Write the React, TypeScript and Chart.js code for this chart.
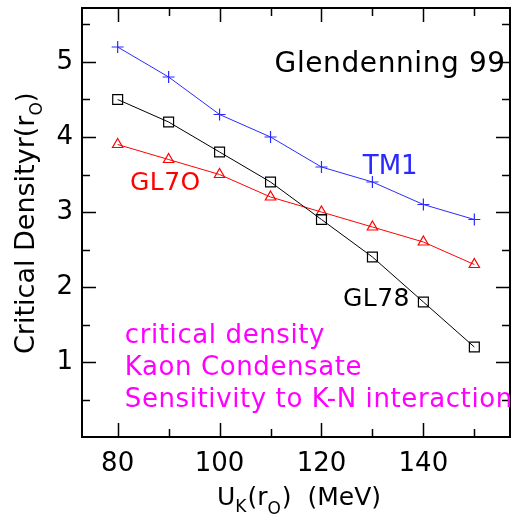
import { useEffect, useRef } from 'react';
import { Chart, registerables } from 'chart.js';

Chart.register(...registerables);

// Kaon potential U_K (MeV)
const uk = [80, 90, 100, 110, 120, 130, 140, 150];
// Critical density for kaon condensation, per parameter set
const tm1 = [5.2, 4.8, 4.3, 4.0, 3.6, 3.4, 3.1, 2.9];
const gl78 = [4.5, 4.2, 3.8, 3.4, 2.9, 2.4, 1.8, 1.2];
const gl70 = [3.9, 3.7, 3.5, 3.2, 3.0, 2.8, 2.6, 2.3];

const xTickValues = [80, 90, 100, 110, 120, 130, 140, 150];
const xTickLabels = [80, 100, 120, 140];
const yTickValues = [0.5, 1, 1.5, 2, 2.5, 3, 3.5, 4, 4.5, 5, 5.5];
const yTickLabels = [1, 2, 3, 4, 5];

const FONT = '"DejaVu Sans", sans-serif';

const frameAndText = {
  id: 'frameAndText',
  afterDraw(chart: any) {
    const { ctx, chartArea: a, scales } = chart;
    const xs = scales.x;
    const ys = scales.y;
    ctx.save();
    ctx.strokeStyle = '#000';
    ctx.lineWidth = 1.5;
    // inward tick marks on all four sides
    for (const v of xTickValues) {
      const px = Math.round(xs.getPixelForValue(v)) + 0.5;
      const len = xTickLabels.includes(v) ? 14 : 8;
      ctx.beginPath();
      ctx.moveTo(px, a.bottom);
      ctx.lineTo(px, a.bottom - len);
      ctx.moveTo(px, a.top);
      ctx.lineTo(px, a.top + len);
      ctx.stroke();
    }
    for (const v of yTickValues) {
      const py = Math.round(ys.getPixelForValue(v)) + 0.5;
      const len = yTickLabels.includes(v) ? 14 : 8;
      ctx.beginPath();
      ctx.moveTo(a.left, py);
      ctx.lineTo(a.left + len, py);
      ctx.moveTo(a.right, py);
      ctx.lineTo(a.right - len, py);
      ctx.stroke();
    }
    // frame
    ctx.lineWidth = 2;
    ctx.strokeRect(a.left, a.top, a.right - a.left, a.bottom - a.top);

    // in-plot labels
    const label = (t: string, x: number, y: number, color: string, size: number, sp = 0) => {
      ctx.fillStyle = color;
      ctx.font = `${size}px ${FONT}`;
      ctx.letterSpacing = `${sp}px`;
      ctx.textAlign = 'left';
      ctx.textBaseline = 'alphabetic';
      ctx.fillText(t, xs.getPixelForValue(x), ys.getPixelForValue(y));
      ctx.letterSpacing = '0px';
    };
    label('Glendenning 99', 110.8, 4.87, '#000', 28, 0.6);
    label('TM1', 128.1, 3.51, '#2a2aff', 26);
    label('GL7O', 82.4, 3.29, '#ff0000', 25, 0.5);
    label('GL78', 124.2, 1.75, '#000', 25, 0.5);
    ctx.save();
    ctx.beginPath();
    ctx.rect(a.left, a.top, a.right - a.left, a.bottom - a.top);
    ctx.clip();
    label('critical density', 81.4, 1.25, '#ff00ff', 26, 0.6);
    label('Kaon Condensate', 81.4, 0.83, '#ff00ff', 26, 0.6);
    label('Sensitivity to K-N interaction', 81.4, 0.4, '#ff00ff', 26, 0.6);
    ctx.restore();

    // x-axis title: U_K(r_O)  (MeV)
    ctx.fillStyle = '#000';
    ctx.textAlign = 'left';
    ctx.textBaseline = 'alphabetic';
    const parts: [string, number, number][] = [
      ['U', 25, 0],
      ['K', 17, 7],
      ['(r', 25, 0],
      ['O', 17, 9],
      [')  (MeV)', 25, 0],
    ];
    let x = 217;
    const base = 505;
    for (const [t, s, dy] of parts) {
      ctx.font = `${s}px ${FONT}`;
      ctx.fillText(t, x, base + dy);
      x += ctx.measureText(t).width + (s < 20 ? 1 : 0);
    }

    // y-axis title, rotated
    ctx.save();
    ctx.translate(34, 354);
    ctx.rotate(-Math.PI / 2);
    const yparts: [string, number, number][] = [
      ['Critical Densityr(r', 27, 0],
      ['O', 17, 8],
      [')', 25, 0],
    ];
    let p = 0;
    for (const [t, s, dy] of yparts) {
      ctx.font = `${s}px ${FONT}`;
      ctx.fillText(t, p, dy);
      p += ctx.measureText(t).width;
    }
    ctx.restore();
    ctx.restore();
  },
};

const fixX = (s: any) => {
  s.height = 83;
  s.paddingLeft = 0;
  s.paddingRight = 0;
};
const fixY = (s: any) => {
  s.width = 82;
  s.paddingTop = 0;
  s.paddingBottom = 0;
};

export default function App() {
  const ref = useRef<HTMLCanvasElement | null>(null);

  useEffect(() => {
    if (!ref.current) return;
    const chart = new Chart(ref.current, {
      type: 'line',
      data: {
        datasets: [
          {
            label: 'TM1',
            data: uk.map((u, i) => ({ x: u, y: tm1[i] })),
            borderColor: '#2a2aff',
            borderWidth: 1,
            pointStyle: 'cross',
            pointRadius: 6,
            pointBorderWidth: 1.2,
            pointBorderColor: '#2a2aff',
            backgroundColor: 'transparent',
          },
          {
            label: 'GL78',
            data: uk.map((u, i) => ({ x: u, y: gl78[i] })),
            borderColor: '#000',
            borderWidth: 1,
            pointStyle: 'rect',
            pointRadius: 7,
            pointBorderWidth: 1.2,
            pointBorderColor: '#000',
            pointBackgroundColor: 'transparent',
            backgroundColor: 'transparent',
          },
          {
            label: 'GL70',
            data: uk.map((u, i) => ({ x: u, y: gl70[i] })),
            borderColor: '#ff0000',
            borderWidth: 1,
            pointStyle: 'triangle',
            pointRadius: 6,
            pointBorderWidth: 1.2,
            pointBorderColor: '#ff0000',
            pointBackgroundColor: 'transparent',
            backgroundColor: 'transparent',
          },
        ],
      },
      options: {
        animation: false,
        responsive: false,
        devicePixelRatio: 1,
        layout: { autoPadding: false, padding: { top: 8, right: 2, left: 0, bottom: 0 } },
        plugins: { legend: { display: false }, tooltip: { enabled: false } },
        elements: { line: { tension: 0 } },
        scales: {
          x: {
            type: 'linear',
            min: 73,
            max: 157,
            grid: { display: false, drawTicks: false },
            border: { display: false },
            afterBuildTicks: (s: any) => {
              s.ticks = xTickValues.map((v) => ({ value: v }));
            },
            afterFit: fixX,
            ticks: {
              autoSkip: false,
              maxRotation: 0,
              padding: 12,
              color: '#000',
              font: { family: FONT, size: 26 },
              callback: (v: any) => (xTickLabels.includes(Number(v)) ? String(v) : ''),
            },
          },
          y: {
            type: 'linear',
            min: 0,
            max: 5.72,
            grid: { display: false, drawTicks: false },
            border: { display: false },
            afterBuildTicks: (s: any) => {
              s.ticks = yTickValues.map((v) => ({ value: v }));
            },
            afterFit: fixY,
            ticks: {
              autoSkip: false,
              padding: 9,
              color: '#000',
              font: { family: FONT, size: 26 },
              callback: (v: any) => (yTickLabels.includes(Number(v)) ? String(v) : ''),
            },
          },
        },
      },
      plugins: [frameAndText],
    });
    return () => chart.destroy();
  }, []);

  return (
    <div style={{ position: 'fixed', left: 0, top: 0, width: 512, height: 520, background: '#fff' }}>
      <canvas ref={ref} width={512} height={520} style={{ display: 'block' }} />
    </div>
  );
}
